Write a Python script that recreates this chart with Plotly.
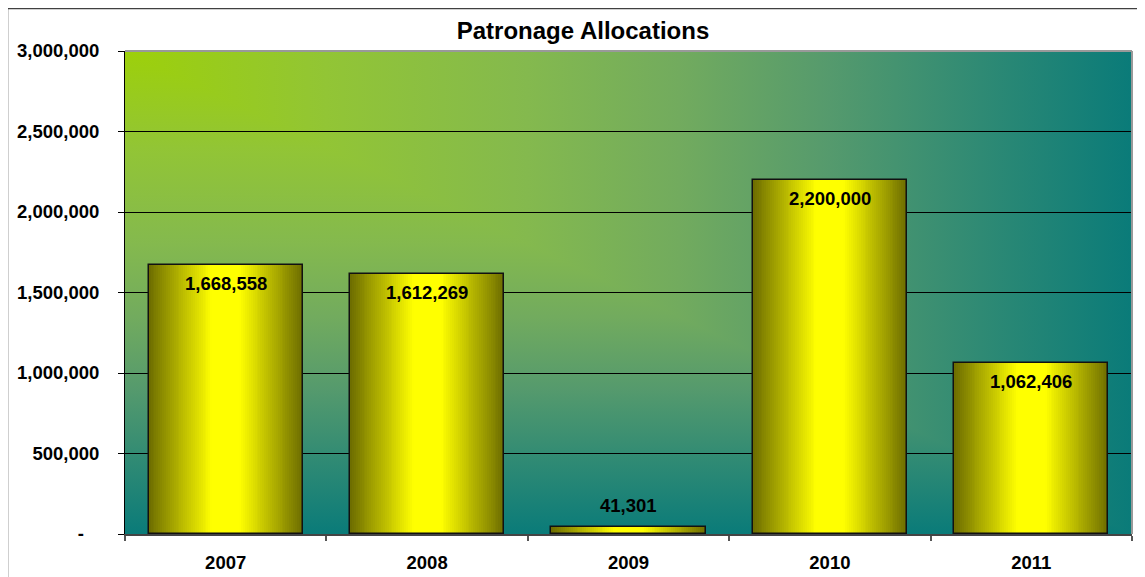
import base64
import plotly.graph_objects as go

# data
years = ['2007', '2008', '2009', '2010', '2011']
allocations = [1668558, 1612269, 41301, 2200000, 1062406]
y_ticks = [0, 500000, 1000000, 1500000, 2000000, 2500000, 3000000]
y_tick_text = ['-' + '\u00a0' * 3] + [f'{v:,}' for v in y_ticks[1:]]
title = 'Patronage Allocations'

FONT = 'Liberation Sans, Arial, sans-serif'
BAR_W = 0.765
N_LAYERS = 40
PAGE_OFF = 8  # body margin of the html page
W, H = 1145 - 2 * PAGE_OFF, 577 - PAGE_OFF


def mix(c1, c2, t):
    r = [round(a + (b - a) * t) for a, b in zip(c1, c2)]
    return f'rgb({r[0]},{r[1]},{r[2]})'


# plot-area background, "from corner" gradient built as an svg
stops = [(0, '#9dd00a'), (0.2, '#92c535'), (0.4, '#84b94e'), (0.55, '#72ab5e'),
         (0.7, '#559a6d'), (0.85, '#2f8a74'), (1, '#0a7b79')]
stop_xml = ''.join(f'<stop offset="{o}" stop-color="{c}"/>' for o, c in stops)
svg = ('<svg xmlns="http://www.w3.org/2000/svg" width="1000" height="1000" '
       'viewBox="0 0 100 100" preserveAspectRatio="none"><defs>'
       f'<linearGradient id="h" x1="0" y1="0" x2="1" y2="0">{stop_xml}</linearGradient>'
       f'<linearGradient id="v" x1="0" y1="0" x2="0" y2="1">{stop_xml}</linearGradient>'
       '</defs>'
       '<rect x="0" y="0" width="100" height="100" fill="url(#h)"/>'
       '<polygon points="0,0 0,100 100,100" fill="url(#v)"/>'
       '</svg>')
bg_src = 'data:image/svg+xml;base64,' + base64.b64encode(svg.encode()).decode()

fig = go.Figure()

# bars: stacked narrowing layers to fake the horizontal shading
dark = (0x6c, 0x6c, 0x00)
bright = (0xff, 0xff, 0x00)
for k in range(N_LAYERS):
    t = (k + 0.5) / N_LAYERS
    fig.add_trace(go.Bar(
        x=years, y=allocations,
        width=BAR_W * (1 - k / N_LAYERS),
        marker=dict(color=mix(dark, bright, min(1, t / 0.82)), line=dict(width=0)),
        hoverinfo='skip', showlegend=False,
    ))

# outline
fig.add_trace(go.Bar(
    x=years, y=allocations, width=BAR_W,
    marker=dict(color='rgba(0,0,0,0)', line=dict(color='#111', width=1.5)),
    hoverinfo='skip', showlegend=False,
))

# data labels (x given as category index)
for i, v in enumerate(allocations):
    inside = v / y_ticks[-1] > 0.05
    fig.add_annotation(
        x=i, y=v, text=f'{v:,}', showarrow=False,
        yanchor='top' if inside else 'bottom',
        yshift=-6 if inside else 9,
        font=dict(family=FONT, size=18.5, color='black', weight='bold'),
    )

ml, mt = 125 - PAGE_OFF, 51 - PAGE_OFF
mr = W - (1132 - PAGE_OFF)
mb = H - (534 - PAGE_OFF)
pw, ph = W - ml - mr, H - mt - mb
bx = (7 - 125) / pw          # chart border, left
by = 1 + (51 - 8) / ph       # chart border, top

fig.update_layout(
    width=W, height=H,
    margin=dict(l=ml, r=mr, t=mt, b=mb, autoexpand=False),
    paper_bgcolor='white', plot_bgcolor='rgba(0,0,0,0)',
    barmode='overlay', bargap=0,
    title=dict(text=title, x=(583 - PAGE_OFF) / W, xref='container', xanchor='center',
               y=1 - (31 - PAGE_OFF) / H, yref='container', yanchor='middle',
               font=dict(family=FONT, size=24, color='black', weight='bold')),
    images=[dict(source=bg_src, xref='paper', yref='paper', x=0, y=1,
                 sizex=1, sizey=1, sizing='stretch', layer='below',
                 xanchor='left', yanchor='top')],
    xaxis=dict(
        type='category', range=[-0.5, len(years) - 0.5],
        tickson='boundaries', ticks='outside', ticklen=5,
        tickcolor='#555', tickwidth=1.5, showline=True, linecolor='#444', linewidth=2,
        showgrid=False, ticklabelstandoff=11, tickangle=0,
        tickfont=dict(family=FONT, size=18.5, color='black', weight='bold'),
    ),
    yaxis=dict(
        range=[0, y_ticks[-1]], tickvals=y_ticks, ticktext=y_tick_text,
        ticks='outside', ticklen=6, tickcolor='black', tickwidth=1,
        showline=True, linecolor='black', linewidth=1,
        showgrid=True, gridcolor='black', gridwidth=1, zeroline=False,
        ticklabelstandoff=15,
        tickfont=dict(family=FONT, size=18.5, color='black', weight='bold'),
    ),
    shapes=[
        # top/right edge of plot area
        dict(type='line', xref='paper', yref='paper', x0=0, x1=1, y0=1, y1=1,
             line=dict(color='#999', width=2), layer='above'),
        dict(type='line', xref='paper', yref='paper', x0=1, x1=1, y0=0, y1=1,
             line=dict(color='#999', width=2), layer='above'),
        # chart border (top and left only, the rest is off-image)
        dict(type='line', xref='paper', yref='paper', x0=bx, x1=1.2, y0=by, y1=by,
             line=dict(color='#404040', width=2.5)),
        dict(type='line', xref='paper', yref='paper', x0=bx, x1=bx, y0=-0.3, y1=by,
             line=dict(color='#404040', width=2.5)),
    ],
)

fig.write_html('out.html')
